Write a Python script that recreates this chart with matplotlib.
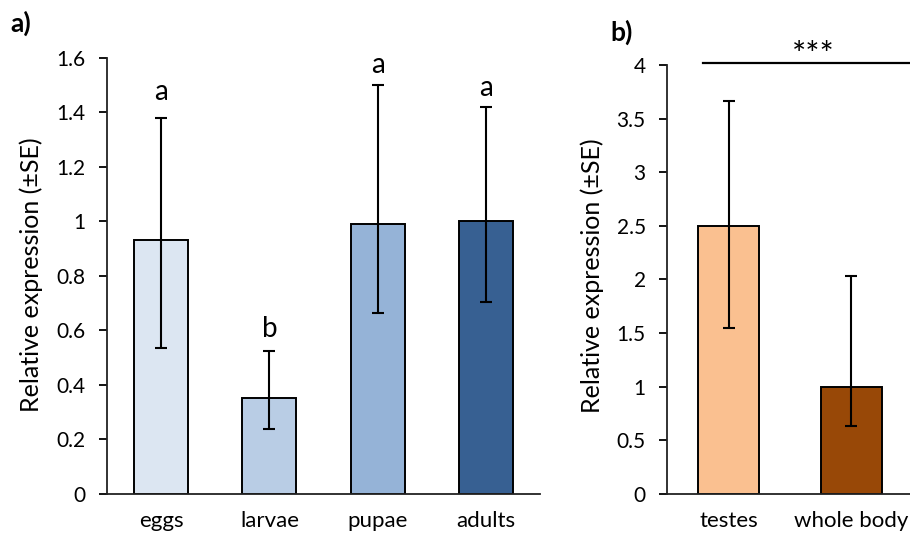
import matplotlib
matplotlib.use("Agg")
import matplotlib.pyplot as plt
import numpy as np

plt.rcParams['font.family'] = ['Lato', 'DejaVu Sans']

# Panel a data
stages = ["eggs", "larvae", "pupae", "adults"]
stage_means = [0.932, 0.351, 0.991, 1.0]
stage_err_hi = [1.38, 0.524, 1.502, 1.419]
stage_err_lo = [0.536, 0.237, 0.663, 0.705]
stage_letters = ["a", "b", "a", "a"]
stage_letter_y = [1.446, 0.576, 1.545, 1.461]
stage_colors = ["#DCE6F2", "#B9CDE5", "#95B3D7", "#376092"]
yticks_a = [0, 0.2, 0.4, 0.6, 0.8, 1.0, 1.2, 1.4, 1.6]
yticklabels_a = ["0", "0.2", "0.4", "0.6", "0.8", "1", "1.2", "1.4", "1.6"]

# Panel b data
tissues = ["testes", "whole body"]
tissue_means = [2.5, 1.0]
tissue_err_hi = [3.66, 2.035]
tissue_err_lo = [1.55, 0.637]
tissue_colors = ["#FAC090", "#984807"]
yticks_b = [0, 0.5, 1, 1.5, 2, 2.5, 3, 3.5, 4]
yticklabels_b = ["0", "0.5", "1", "1.5", "2", "2.5", "3", "3.5", "4"]
sig_label = "***"

fig = plt.figure(figsize=(9.10, 5.41), dpi=100)
axa = fig.add_axes([0.1176, 0.0869, 0.4758, 0.8059])
axb = fig.add_axes([0.7333, 0.0869, 0.2667, 0.7930])

def style(ax):
    for s in ["top", "right"]:
        ax.spines[s].set_visible(False)
    for s in ["left", "bottom"]:
        ax.spines[s].set_linewidth(1.3)
        ax.spines[s].set_color("#222222")
    ax.tick_params(axis="y", direction="out", length=5.5, width=1.3, labelsize=15, pad=10)
    ax.tick_params(axis="x", length=0, labelsize=16, pad=12)

# Panel a
xa = np.arange(len(stages))
ma = np.array(stage_means)
yerr_a = np.vstack([ma - np.array(stage_err_lo), np.array(stage_err_hi) - ma])
axa.bar(xa, ma, width=0.5, color=stage_colors, edgecolor="black", linewidth=1.4, zorder=2)
axa.errorbar(xa, ma, yerr=yerr_a, fmt="none", ecolor="black", elinewidth=1.5,
             capsize=4.5, capthick=1.5, zorder=3)
for xi, ly, lab in zip(xa, stage_letter_y, stage_letters):
    axa.text(xi, ly, lab, ha="center", va="baseline", fontsize=20)
axa.set_xlim(-0.5, 3.5)
axa.set_ylim(0, 1.6)
axa.set_yticks(yticks_a)
axa.set_yticklabels(yticklabels_a)
axa.set_xticks(xa)
axa.set_xticklabels(stages)
axa.set_ylabel("Relative expression (±SE)", fontsize=18)
axa.yaxis.set_label_coords(-0.148, 0.502)
style(axa)

# Panel b
xb = np.arange(len(tissues))
mb = np.array(tissue_means)
yerr_b = np.vstack([mb - np.array(tissue_err_lo), np.array(tissue_err_hi) - mb])
axb.bar(xb, mb, width=0.5, color=tissue_colors, edgecolor="black", linewidth=1.4, zorder=2)
axb.errorbar(xb, mb, yerr=yerr_b, fmt="none", ecolor="black", elinewidth=1.5,
             capsize=4.5, capthick=1.5, zorder=3)
axb.set_xlim(-0.5, 1.478)
axb.set_ylim(0, 4)
axb.set_yticks(yticks_b)
axb.set_yticklabels(yticklabels_b)
axb.set_xticks(xb)
axb.set_xticklabels(tissues)
axb.set_ylabel("Relative expression (±SE)", fontsize=18)
axb.yaxis.set_label_coords(-0.26, 0.51)
style(axb)
axb.plot([-0.21, 1.5], [4.02, 4.02], color="black", linewidth=1.6, clip_on=False)
axb.text(0.693, 4.0, sig_label, ha="center", va="baseline", fontsize=24)

fig.text(0.011, 0.957, "a)", fontsize=19, fontweight="bold", va="center", ha="left")
fig.text(0.671, 0.94, "b)", fontsize=19, fontweight="bold", va="center", ha="left")

fig.savefig("out.png", dpi=100)
